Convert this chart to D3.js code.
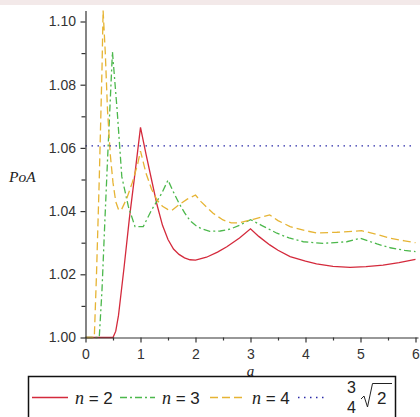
<!DOCTYPE html>
<html>
<head>
<meta charset="utf-8">
<script src="https://cdn.jsdelivr.net/npm/d3@7"></script>
<style>
  body { margin: 0; background: #fff; }
  svg { display: block; }
  .tick text { font-family: "Liberation Sans", Arial, sans-serif; font-size: 14px; fill: #333; }
</style>
</head>
<body>
<div id="chart"></div>
<script>
var width = 420, height = 417;

// n = 2
var aRed = [0, 0.5, 0.55, 0.6, 0.7, 0.8, 0.9, 1.0, 1.1, 1.2, 1.3, 1.4, 1.5, 1.6, 1.7, 1.8, 1.9, 2.0, 2.2, 2.4, 2.57, 2.8, 3.0,
            3.15, 3.35, 3.5, 3.72, 4.0, 4.2, 4.5, 4.81, 5.1, 5.41, 5.7, 6.0];
var vRed = [1.0, 1.0, 1.002, 1.007, 1.022, 1.038, 1.052, 1.0665, 1.058, 1.050, 1.042, 1.0355, 1.031, 1.028, 1.0263, 1.0252, 1.0246, 1.0245, 1.0254, 1.027, 1.0287, 1.0315, 1.0344,
            1.032, 1.0293, 1.0276, 1.0256, 1.0242, 1.0233, 1.0225, 1.0222, 1.0224, 1.0229, 1.0237, 1.0247];
// n = 3
var aGreen = [0, 0.25, 0.3, 0.35, 0.4, 0.45, 0.49, 0.575, 0.66, 0.78, 0.9, 1.05, 1.2, 1.385, 1.5, 1.6, 1.7, 1.8, 1.9, 2.0, 2.1, 2.26, 2.45, 2.63, 2.8, 3.0,
              3.2, 3.48, 3.7, 3.96, 4.32, 4.75, 5.0, 5.3, 5.54, 5.8, 6.0];
var vGreen = [1.0, 1.0, 1.015, 1.036, 1.056, 1.075, 1.0904, 1.072, 1.0509, 1.0414, 1.0351, 1.0351, 1.0403, 1.0456, 1.0498, 1.046, 1.0425, 1.0395, 1.037, 1.0355, 1.0345, 1.0336, 1.0337, 1.0343, 1.0355, 1.0373,
              1.0355, 1.033, 1.0315, 1.0303, 1.0298, 1.0303, 1.0314, 1.0296, 1.0284, 1.0276, 1.0272];
// n = 4
var aYellow = [0, 0.16, 0.2, 0.25, 0.3, 0.32, 0.36, 0.4, 0.45, 0.5, 0.55, 0.6, 0.65, 0.75, 0.85, 0.95, 1.0, 1.1, 1.2, 1.3, 1.4, 1.5, 1.57, 1.7, 1.85, 2.0,
               2.1, 2.32, 2.5, 2.65, 2.8, 3.05, 3.35, 3.5, 3.72, 4.0, 4.2, 4.57, 5.02, 5.3, 5.54, 5.8, 6.0];
var vYellow = [1.0, 1.0, 1.02, 1.05, 1.085, 1.1035, 1.090, 1.072, 1.058, 1.049, 1.043, 1.0405, 1.0403, 1.044, 1.049, 1.055, 1.059, 1.052, 1.047, 1.0435, 1.0415, 1.0405, 1.0402, 1.042, 1.0438, 1.0451,
               1.043, 1.0393, 1.0372, 1.0363, 1.0363, 1.0374, 1.0388, 1.037, 1.0351, 1.0338, 1.0331, 1.0333, 1.0338, 1.0326, 1.0314, 1.0306, 1.030];
// 3/4 sqrt(2)
var aBound = [0, 6];
var vBound = [0.75 * Math.SQRT2, 0.75 * Math.SQRT2];

var yMajor = [1.00, 1.02, 1.04, 1.06, 1.08, 1.10];
var yMinor = [1.01, 1.03, 1.05, 1.07, 1.09];
var xMajor = [0, 1, 2, 3, 4, 5, 6];
var xMinor = [0.5, 1.5, 2.5, 3.5, 4.5, 5.5];

var series = [
  {a: aRed, v: vRed, color: "#d42a3c", dash: null, label: "2"},
  {a: aGreen, v: vGreen, color: "#4cb84c", dash: "7,3,2,3", label: "3"},
  {a: aYellow, v: vYellow, color: "#e6b434", dash: "8,4", label: "4"},
  {a: aBound, v: vBound, color: "#2a2aa8", dash: "1.5,4.5", label: null}
];

var yMax = d3.max(series, function(s) { return d3.max(s.v); });

var x = d3.scaleLinear().domain([0, 6]).range([85.5, 415.5]);
var y = d3.scaleLinear().domain([1.0, yMax]).range([337.5, 337.5 - 3160 * (yMax - 1)]);

var svg = d3.select("#chart").append("svg")
  .attr("width", width)
  .attr("height", height);

svg.append("rect")
  .attr("width", width).attr("height", 5)
  .attr("fill", "#f3e9e9");

// curves
var line = d3.line()
  .x(function(d) { return x(d[0]); })
  .y(function(d) { return y(d[1]); });

var plot = svg.append("g").attr("id", "plot");
series.forEach(function(s) {
  plot.append("path")
    .datum(d3.zip(s.a, s.v))
    .attr("d", line)
    .attr("fill", "none")
    .attr("stroke", s.color)
    .attr("stroke-width", 1.3)
    .attr("stroke-dasharray", s.dash);
});

// axes
var yAxis = svg.append("g")
  .attr("transform", "translate(" + x(0) + ",0)")
  .call(d3.axisLeft(y).tickValues(yMajor).tickSize(5).tickSizeOuter(0).tickPadding(4.5).tickFormat(d3.format(".2f")));
svg.append("g")
  .attr("transform", "translate(" + x(0) + ",0)")
  .call(d3.axisLeft(y).tickValues(yMinor).tickSize(4).tickFormat(""))
  .select(".domain").remove();

var xAxis = svg.append("g")
  .attr("transform", "translate(0," + y(1.0) + ")")
  .call(d3.axisBottom(x).tickValues(xMajor).tickSize(5).tickSizeOuter(0).tickPadding(7).tickFormat(d3.format("d")));
svg.append("g")
  .attr("transform", "translate(0," + y(1.0) + ")")
  .call(d3.axisBottom(x).tickValues(xMinor).tickSize(3).tickFormat(""))
  .select(".domain").remove();

svg.selectAll(".domain, .tick line").attr("stroke", "#333").attr("stroke-width", 1.2);
xAxis.select(".domain").attr("d", "M" + x(0) + ",0.5H" + (x(6) + 3));

// axis titles
svg.append("text")
  .attr("x", 9).attr("y", 181.5)
  .style("font-family", "'Liberation Serif', 'Times New Roman', serif")
  .style("font-style", "italic")
  .style("font-size", "15.5px")
  .attr("fill", "#222")
  .text("PoA");

svg.append("text")
  .attr("x", x(3)).attr("y", 376)
  .attr("text-anchor", "middle")
  .style("font-family", "'Liberation Serif', 'Times New Roman', serif")
  .style("font-style", "italic")
  .style("font-size", "15px")
  .attr("fill", "#222")
  .text("a");

// legend
var legend = svg.append("g");
legend.append("rect")
  .attr("x", 28.5).attr("y", 376.5)
  .attr("width", 367).attr("height", 60)
  .attr("fill", "#fff")
  .attr("stroke", "#111")
  .attr("stroke-width", 1.5);

var legendX = [32, 120, 210, 298];
var legendW = [36, 35, 35, 27];
series.forEach(function(s, i) {
  legend.append("line")
    .attr("x1", legendX[i]).attr("x2", legendX[i] + legendW[i])
    .attr("y1", 397.5).attr("y2", 397.5)
    .attr("stroke", s.color)
    .attr("stroke-width", 1.3)
    .attr("stroke-dasharray", s.dash);
  if (s.label) {
    var t = legend.append("text")
      .attr("x", legendX[i] + legendW[i] + 7).attr("y", 404)
      .attr("fill", "#222");
    t.append("tspan")
      .style("font-family", "'Liberation Serif', 'Times New Roman', serif")
      .style("font-style", "italic")
      .style("font-size", "18px")
      .text("n");
    t.append("tspan")
      .style("font-family", "'Liberation Sans', Arial, sans-serif")
      .style("font-size", "17px")
      .attr("xml:space", "preserve")
      .text(" = " + s.label);
  }
});

// 3/4 sqrt(2)
var fracFont = "'Liberation Sans', Arial, sans-serif";
legend.append("text").attr("x", 351.5).attr("y", 393).attr("text-anchor", "middle")
  .style("font-family", fracFont).style("font-size", "16px").attr("fill", "#222").text("3");
legend.append("text").attr("x", 351.5).attr("y", 413).attr("text-anchor", "middle")
  .style("font-family", fracFont).style("font-size", "16px").attr("fill", "#222").text("4");
legend.append("path")
  .attr("d", "M361,399L364,396L367.5,407L372.5,383.5H392")
  .attr("fill", "none").attr("stroke", "#222").attr("stroke-width", 1);
legend.append("text").attr("x", 377).attr("y", 404)
  .style("font-family", fracFont).style("font-size", "17px").attr("fill", "#222").text("2");
</script>
</body>
</html>
